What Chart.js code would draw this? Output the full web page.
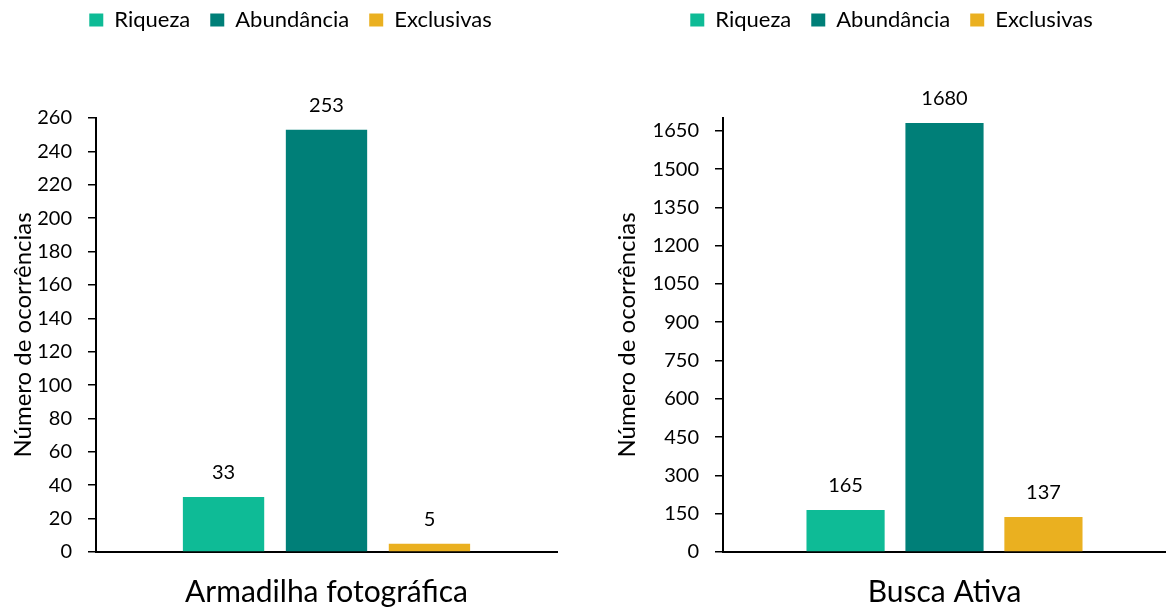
<!DOCTYPE html>
<html>
<head>
<meta charset="utf-8">
<script src="https://cdn.jsdelivr.net/npm/chart.js@4.4.1/dist/chart.umd.min.js"></script>
<style>
    html, body { margin: 0; padding: 0; background: #fff; }
    .box { position: absolute; top: 0; height: 610px; width: 583px; }
</style>
</head>
<body>
<div class="box" style="left:0"><canvas id="chartArmadilha" width="583" height="610"></canvas></div>
<div class="box" style="left:583px"><canvas id="chartBusca" width="583" height="610"></canvas></div>
<script>
// Dados
const seriesNames = ['Riqueza', 'Abundância', 'Exclusivas'];
const seriesColors = ['#0EBB96', '#007F78', '#EAB020'];

const armadilhaCategory = ['Armadilha fotográfica'];
const armadilhaValues = [33, 253, 5];
const armadilhaMax = 260;
const armadilhaStep = 20;

const buscaCategory = ['Busca Ativa'];
const buscaValues = [165, 1680, 137];
const buscaMax = 1700;
const buscaStep = 150;

const yTitle = 'Número de ocorrências';

Chart.defaults.font.family = 'Lato, "Open Sans", sans-serif';
Chart.defaults.color = '#000';

// Rótulos de valor acima das barras
const barValueLabels = {
    id: 'barValueLabels',
    afterDatasetsDraw(chart) {
        const ctx = chart.ctx;
        ctx.save();
        ctx.font = '20px Lato';
        ctx.fillStyle = '#000';
        ctx.textAlign = 'center';
        ctx.textBaseline = 'alphabetic';
        chart.data.datasets.forEach((ds, i) => {
            chart.getDatasetMeta(i).data.forEach((bar, j) => {
                ctx.fillText(ds.data[j], bar.x, bar.y - 18);
            });
        });
        ctx.restore();
    }
};

// Posição da legenda (topo e centro) e espaço até a área do gráfico
const legendBox = {
    id: 'legendBox',
    beforeInit(chart) {
        const legend = chart.legend;
        const fit = legend.fit;
        const opts = chart.options.plugins.legendBox;
        legend.fit = function () {
            fit.call(this);
            this.height = opts.height;
        };
    },
    afterLayout(chart) {
        const opts = chart.options.plugins.legendBox;
        const legend = chart.legend;
        legend.top = opts.top;
        legend.left = opts.left;
        legend.right = opts.right;
    }
};

function makeChart(id, category, values, max, step, cfg) {
    const datasets = seriesNames.map((name, i) => ({
        label: name,
        data: [values[i]],
        backgroundColor: seriesColors[i],
        borderWidth: 0,
        categoryPercentage: 0.67,
        barPercentage: 0.79
    }));

    return new Chart(document.getElementById(id), {
        type: 'bar',
        data: { labels: category, datasets: datasets },
        options: {
            responsive: false,
            animation: false,
            layout: { padding: { left: 0, right: cfg.padRight, top: 0, bottom: 0 } },
            plugins: {
                tooltip: { enabled: false },
                legendBox: cfg.legend,
                legend: {
                    position: 'top',
                    labels: {
                        font: { size: 22 },
                        color: '#000',
                        boxWidth: 14,
                        boxHeight: 13,
                        padding: 20
                    }
                }
            },
            scales: {
                x: {
                    afterFit(scale) { scale.height = 58; },
                    grid: { display: false },
                    border: { display: true, color: '#000', width: 2 },
                    ticks: { font: { size: 30 }, color: '#000', padding: 14, maxRotation: 0 }
                },
                y: {
                    min: 0,
                    max: max,
                    afterFit(scale) { scale.width = cfg.axisWidth; },
                    grid: {
                        drawOnChartArea: false,
                        drawTicks: true,
                        tickLength: 8,
                        color: '#000',
                        lineWidth: 1.5
                    },
                    border: { display: true, color: '#000', width: 2 },
                    ticks: {
                        stepSize: step,
                        includeBounds: false,
                        font: { size: 20 },
                        color: '#000',
                        padding: 16,
                        callback: (v) => String(v)
                    },
                    title: {
                        display: true,
                        text: yTitle,
                        font: { size: 24 },
                        color: '#000',
                        padding: { top: cfg.titlePad, bottom: 0 }
                    }
                }
            }
        },
        plugins: [barValueLabels, legendBox]
    });
}

makeChart('chartArmadilha', armadilhaCategory, armadilhaValues, armadilhaMax, armadilhaStep, {
    padRight: 26,
    axisWidth: 96,
    titlePad: 9,
    legend: { top: -11, height: 118, left: 0, right: 581 }
});

makeChart('chartBusca', buscaCategory, buscaValues, buscaMax, buscaStep, {
    padRight: 0,
    axisWidth: 140,
    titlePad: 30,
    legend: { top: -11, height: 118, left: 34, right: 583 }
});
</script>
</body>
</html>
